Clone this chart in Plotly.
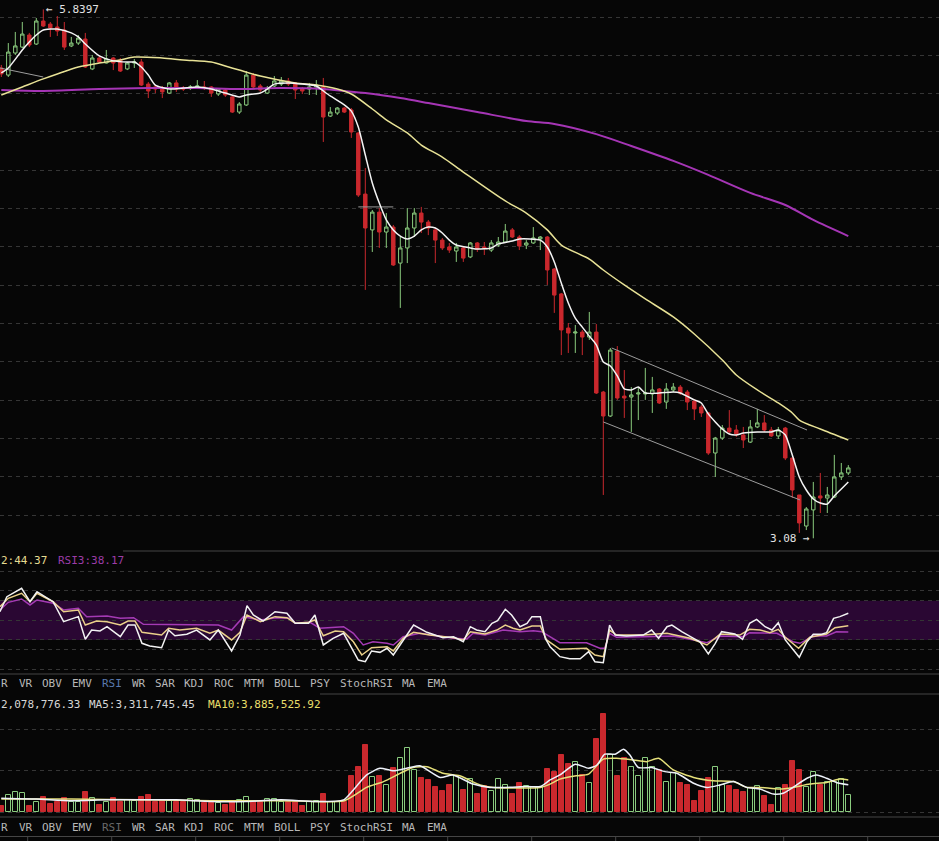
import plotly.graph_objects as go

# ---------------- data ----------------
candle_open = [5.534, 5.497, 5.612, 5.643, 5.706, 5.659, 5.779, 5.763, 5.748, 5.732,
               5.649, 5.664, 5.685, 5.529, 5.586, 5.560, 5.586, 5.576, 5.529, 5.560,
               5.565, 5.450, 5.435, 5.429, 5.403, 5.456, 5.429, 5.429, 5.435, 5.435,
               5.435, 5.398, 5.419, 5.383, 5.304, 5.341, 5.497, 5.440, 5.403, 5.440,
               5.450, 5.466, 5.456, 5.424, 5.424, 5.435, 5.435, 5.283, 5.299, 5.325,
               5.315, 5.195, 4.876, 4.689, 4.782, 4.678, 4.704, 4.516, 4.595, 4.699,
               4.777, 4.730, 4.689, 4.636, 4.600, 4.579, 4.595, 4.548, 4.621, 4.600,
               4.584, 4.610, 4.626, 4.689, 4.652, 4.610, 4.621, 4.642, 4.652, 4.485,
               4.355, 4.177, 4.151, 4.156, 4.130, 4.156, 3.843, 3.718, 4.057, 3.822,
               3.817, 3.833, 3.833, 3.833, 3.859, 3.791, 3.854, 3.869, 3.843, 3.796,
               3.765, 3.734, 3.525, 3.603, 3.655, 3.645, 3.619, 3.582, 3.661, 3.682,
               3.645, 3.614, 3.655, 3.499, 3.306, 3.144, 3.228, 3.301, 3.290, 3.295,
               3.400, 3.421]
candle_high = [5.550, 5.664, 5.722, 5.774, 5.717, 5.795, 5.8397, 5.774, 5.805, 5.774,
               5.696, 5.706, 5.717, 5.602, 5.597, 5.628, 5.591, 5.586, 5.565, 5.581,
               5.581, 5.461, 5.445, 5.440, 5.461, 5.471, 5.440, 5.445, 5.471, 5.466,
               5.440, 5.429, 5.429, 5.393, 5.356, 5.518, 5.508, 5.450, 5.440, 5.492,
               5.487, 5.482, 5.461, 5.435, 5.456, 5.471, 5.482, 5.330, 5.330, 5.330,
               5.325, 5.200, 5.012, 4.793, 4.803, 4.777, 4.715, 4.652, 4.803, 4.803,
               4.809, 4.741, 4.699, 4.647, 4.621, 4.621, 4.600, 4.626, 4.626, 4.626,
               4.636, 4.652, 4.720, 4.699, 4.662, 4.636, 4.704, 4.657, 4.657, 4.490,
               4.360, 4.203, 4.193, 4.167, 4.261, 4.198, 3.849, 4.073, 4.083, 3.958,
               3.869, 3.869, 3.969, 3.922, 3.864, 3.890, 3.890, 3.880, 3.854, 3.807,
               3.776, 3.739, 3.609, 3.671, 3.749, 3.671, 3.661, 3.697, 3.755, 3.723,
               3.661, 3.661, 3.661, 3.499, 3.306, 3.243, 3.374, 3.421, 3.348, 3.515,
               3.473, 3.462]
candle_low = [5.487, 5.487, 5.602, 5.638, 5.643, 5.654, 5.748, 5.696, 5.701, 5.628,
              5.643, 5.654, 5.534, 5.523, 5.560, 5.557, 5.523, 5.513, 5.523, 5.534,
              5.440, 5.377, 5.403, 5.377, 5.398, 5.409, 5.414, 5.419, 5.424, 5.419,
              5.383, 5.388, 5.383, 5.299, 5.294, 5.336, 5.429, 5.409, 5.398, 5.435,
              5.440, 5.440, 5.372, 5.398, 5.393, 5.393, 5.148, 5.278, 5.289, 5.299,
              5.169, 4.861, 4.376, 4.574, 4.595, 4.595, 4.501, 4.282, 4.516, 4.652,
              4.673, 4.662, 4.516, 4.584, 4.569, 4.522, 4.522, 4.542, 4.574, 4.558,
              4.574, 4.600, 4.621, 4.647, 4.584, 4.589, 4.616, 4.584, 4.402, 4.256,
              4.036, 4.047, 4.047, 4.036, 4.115, 3.833, 3.306, 3.713, 3.802, 3.708,
              3.635, 3.697, 3.802, 3.734, 3.781, 3.755, 3.843, 3.828, 3.749, 3.697,
              3.713, 3.515, 3.400, 3.593, 3.629, 3.609, 3.551, 3.577, 3.655, 3.635,
              3.609, 3.598, 3.488, 3.290, 3.108, 3.123, 3.080, 3.212, 3.212, 3.290,
              3.384, 3.410]
candle_close = [5.503, 5.617, 5.649, 5.711, 5.654, 5.779, 5.753, 5.743, 5.727, 5.643,
                5.664, 5.690, 5.539, 5.586, 5.565, 5.581, 5.560, 5.518, 5.560, 5.565,
                5.445, 5.414, 5.424, 5.409, 5.456, 5.424, 5.424, 5.435, 5.440, 5.429,
                5.403, 5.424, 5.393, 5.304, 5.346, 5.497, 5.435, 5.419, 5.429, 5.466,
                5.466, 5.450, 5.419, 5.414, 5.435, 5.445, 5.278, 5.304, 5.325, 5.304,
                5.200, 4.871, 4.699, 4.782, 4.678, 4.704, 4.506, 4.595, 4.699, 4.777,
                4.730, 4.699, 4.636, 4.595, 4.584, 4.600, 4.542, 4.621, 4.589, 4.595,
                4.621, 4.626, 4.683, 4.652, 4.605, 4.621, 4.647, 4.652, 4.480, 4.349,
                4.167, 4.151, 4.156, 4.130, 4.156, 3.838, 3.718, 4.062, 3.812, 3.812,
                3.828, 3.838, 3.838, 3.854, 3.786, 3.859, 3.869, 3.838, 3.791, 3.755,
                3.734, 3.525, 3.603, 3.655, 3.635, 3.624, 3.593, 3.661, 3.682, 3.645,
                3.614, 3.645, 3.499, 3.332, 3.160, 3.233, 3.295, 3.290, 3.306, 3.400,
                3.421, 3.447]
# volume in millions
volume_m = [0.7, 2.1, 2.4, 2.3, 0.7, 1.3, 1.8, 1.0, 1.3, 1.7,
            1.3, 1.2, 2.4, 1.7, 0.9, 1.3, 1.7, 1.3, 1.5, 1.4,
            1.8, 2.1, 1.2, 1.4, 1.4, 1.3, 1.2, 1.6, 1.5, 1.1,
            1.1, 1.1, 0.9, 1.4, 1.5, 1.8, 1.4, 1.3, 1.6, 1.6,
            1.3, 1.2, 1.3, 0.8, 1.3, 1.4, 2.2, 1.2, 1.2, 1.2,
            4.4, 5.4, 8.1, 4.2, 4.4, 3.3, 5.3, 6.5, 7.8, 5.1,
            4.1, 3.9, 3.1, 2.6, 3.3, 4.4, 2.7, 4.0, 2.2, 3.2,
            2.6, 4.0, 3.3, 2.2, 3.5, 3.2, 3.1, 3.0, 5.2, 4.9,
            6.9, 5.8, 6.1, 4.5, 3.5, 8.8, 11.8, 6.9, 4.4, 6.5,
            5.5, 4.4, 6.6, 5.5, 5.1, 3.6, 4.7, 3.5, 3.3, 1.4,
            2.6, 4.1, 5.4, 3.3, 3.2, 2.7, 2.5, 2.9, 3.2, 2.0,
            0.9, 2.9, 3.3, 6.2, 5.1, 3.1, 4.8, 3.3, 3.6, 3.7,
            4.0, 2.08]

ma5_idx = [0, 1, 3, 4, 5, 6, 7, 8, 10, 11, 12, 14, 16, 18, 19, 20, 21, 22, 24, 26, 28, 30, 32, 34,
           35, 37, 38, 39, 41, 43, 45, 46, 47, 49, 50, 51, 52, 53, 54, 55, 56, 57, 58, 59, 60, 61,
           62, 63, 64, 65, 67, 68, 70, 71, 73, 74, 77, 78, 79, 80, 81, 82, 83, 84, 85, 86, 87, 88,
           89, 90, 91, 92, 94, 96, 97, 99, 100, 101, 102, 103, 104, 105, 106, 108, 110, 111, 112,
           113, 114, 115, 116, 117, 118, 119, 120, 121]
ma5_val = [5.508, 5.534, 5.628, 5.670, 5.706, 5.732, 5.737, 5.737, 5.717, 5.696, 5.659, 5.597,
           5.571, 5.565, 5.565, 5.539, 5.497, 5.445, 5.424, 5.429, 5.435, 5.424, 5.403, 5.383,
           5.393, 5.403, 5.424, 5.450, 5.456, 5.450, 5.440, 5.414, 5.388, 5.341, 5.309, 5.226,
           5.080, 4.934, 4.829, 4.741, 4.689, 4.657, 4.642, 4.657, 4.689, 4.704, 4.699, 4.673,
           4.636, 4.610, 4.595, 4.589, 4.595, 4.616, 4.631, 4.642, 4.636, 4.600, 4.522, 4.412,
           4.308, 4.229, 4.182, 4.135, 4.089, 4.000, 3.979, 3.927, 3.859, 3.854, 3.869, 3.838,
           3.838, 3.843, 3.838, 3.802, 3.786, 3.729, 3.687, 3.650, 3.624, 3.619, 3.629, 3.635,
           3.635, 3.645, 3.619, 3.515, 3.400, 3.332, 3.285, 3.264, 3.259, 3.301, 3.337, 3.374]

ma30_idx = [0, 3, 6, 8, 11, 14, 17, 19, 23, 26, 30, 32, 34, 37, 42, 45, 48, 50, 53, 55, 58, 60,
            63, 66, 72, 75, 78, 80, 84, 86, 89, 92, 96, 99, 103, 105, 108, 111, 113, 114, 117, 121]
ma30_val = [5.393, 5.435, 5.477, 5.503, 5.539, 5.560, 5.576, 5.591, 5.586, 5.576, 5.565, 5.544,
            5.523, 5.492, 5.456, 5.445, 5.424, 5.398, 5.320, 5.263, 5.195, 5.132, 5.069, 4.991,
            4.840, 4.777, 4.689, 4.610, 4.537, 4.480, 4.402, 4.329, 4.235, 4.146, 4.010, 3.932,
            3.854, 3.786, 3.734, 3.697, 3.650, 3.593]

ma120_idx = [0, 6, 14, 21, 28, 34, 40, 46, 49, 52, 57, 61, 68, 75, 79, 85, 90, 96, 101, 107, 112, 116, 121]
ma120_val = [5.419, 5.414, 5.424, 5.429, 5.429, 5.424, 5.429, 5.424, 5.414, 5.403, 5.377, 5.351,
             5.304, 5.257, 5.242, 5.189, 5.127, 5.049, 4.976, 4.882, 4.819, 4.741, 4.657]

rsi1_idx = [-0.2, 0.8, 2.9, 4.1, 5.1, 7.4, 8.9, 11.0, 12.0, 12.9,
            14.1, 15.1, 17.0, 18.1, 19.1, 20.1, 21.2, 22.9, 23.9, 24.8,
            26.5, 27.9, 29.8, 31.0, 32.9, 34.1, 35.1, 36.0, 37.4, 39.1,
            40.8, 42.0, 43.9, 44.8, 46.0, 47.4, 48.9, 50.1, 51.0, 52.0,
            52.9, 54.1, 55.1, 56.0, 57.4, 58.9, 60.8, 63.1, 64.6, 66.0,
            67.0, 67.9, 69.1, 70.1, 70.9, 72.0, 72.9, 74.1, 75.1, 75.8,
            77.0, 77.7, 78.4, 79.8, 81.2, 82.7, 83.9, 84.8, 86.0, 86.9,
            87.7, 89.3, 91.7, 92.9, 93.9, 95.1, 95.8, 97.2, 98.9, 99.8,
            101.0, 102.0, 102.9, 104.8, 105.9, 106.9, 107.9, 109.1, 110.1, 111.0,
            112.0, 113.1, 114.0, 115.1, 116.0, 117.2, 117.9, 118.9, 119.8, 121.0]
rsi1_val = [58.7, 74.0, 82.6, 68.9, 79.1, 68.9, 48.6, 53.7, 30.7, 40.1,
            39.1, 43.5, 33.3, 45.2, 45.2, 26.6, 23.9, 22.1, 40.1, 34.3,
            35.8, 40.1, 30.0, 40.1, 18.8, 35.0, 64.9, 55.4, 49.3, 58.7,
            57.1, 46.9, 46.9, 55.4, 24.9, 31.7, 36.8, 21.5, 9.6, 7.9,
            18.8, 17.4, 21.5, 14.7, 30.0, 45.2, 37.8, 32.3, 33.3, 28.2,
            43.5, 40.1, 38.4, 46.9, 49.6, 61.2, 55.4, 43.5, 46.9, 53.7,
            53.7, 31.7, 23.1, 13.0, 10.9, 10.9, 18.1, 7.9, 6.9, 45.2,
            35.0, 34.0, 35.0, 40.1, 31.7, 43.5, 45.2, 38.4, 31.7, 28.2,
            15.7, 26.6, 38.4, 36.1, 30.7, 46.9, 51.0, 43.5, 40.1, 47.6,
            30.0, 19.8, 12.4, 28.2, 35.8, 35.8, 37.4, 52.0, 53.7, 57.1]

rsi2_idx = [-0.2, 1.0, 2.9, 4.1, 5.1, 7.4, 8.9, 11.0, 12.0, 13.6,
            15.1, 17.0, 18.1, 19.1, 20.1, 21.7, 22.9, 23.9, 25.5, 27.9,
            29.8, 31.0, 32.9, 34.1, 35.1, 37.0, 39.1, 40.8, 42.0, 43.9,
            44.8, 46.0, 47.7, 48.9, 50.3, 51.5, 52.9, 55.1, 56.0, 57.4,
            58.9, 61.2, 64.6, 66.0, 67.0, 69.1, 70.8, 72.0, 73.1, 74.1,
            75.8, 77.0, 77.9, 79.8, 83.6, 84.8, 86.0, 86.9, 87.9, 91.7,
            95.1, 98.4, 100.8, 102.7, 105.5, 106.9, 108.4, 109.8, 111.0, 112.0,
            113.9, 115.5, 117.9, 119.1, 121.0]
rsi2_val = [63.8, 72.4, 77.5, 68.9, 77.5, 68.9, 58.7, 60.5, 45.2, 49.3,
            48.6, 45.2, 49.3, 49.3, 37.8, 35.8, 35.0, 41.9, 40.1, 41.9,
            36.8, 40.1, 30.0, 37.8, 55.4, 48.6, 53.7, 52.6, 46.9, 48.0,
            50.3, 34.3, 39.1, 38.4, 28.2, 14.7, 22.1, 23.1, 18.8, 31.7,
            37.8, 35.0, 32.3, 30.0, 38.4, 36.1, 40.1, 45.2, 41.9, 40.1,
            44.2, 44.2, 30.0, 20.5, 21.5, 14.7, 13.0, 40.1, 35.0, 35.0,
            36.8, 31.7, 24.9, 36.1, 35.0, 40.8, 40.1, 37.4, 40.8, 32.7,
            21.5, 32.7, 36.1, 42.5, 44.37]

rsi3_idx = [-0.2, 1.0, 2.9, 4.1, 5.1, 7.4, 8.9, 11.0, 12.2, 15.1,
            17.0, 18.9, 20.3, 23.6, 28.4, 31.0, 32.9, 34.6, 37.0, 39.3,
            41.2, 42.0, 44.1, 45.5, 48.9, 50.3, 51.7, 53.1, 55.1, 56.0,
            57.4, 59.8, 64.6, 66.5, 67.4, 69.1, 71.7, 74.1, 76.0, 77.2,
            79.8, 83.6, 85.5, 86.2, 86.9, 87.9, 91.7, 96.0, 98.9, 100.8,
            102.7, 106.0, 106.9, 110.8, 113.1, 114.1, 116.0, 117.9, 119.3, 121.0]
rsi3_val = [60.5, 68.3, 71.7, 65.6, 70.7, 67.3, 60.5, 62.2, 53.7, 54.4,
            52.0, 52.6, 45.9, 45.9, 45.9, 45.2, 40.1, 53.7, 50.3, 52.6,
            52.0, 46.9, 48.0, 41.9, 43.5, 36.8, 24.9, 28.2, 26.6, 24.9,
            33.3, 36.8, 31.7, 31.0, 36.8, 35.0, 40.1, 38.4, 39.4, 38.4,
            27.2, 27.2, 21.5, 21.5, 36.8, 32.7, 33.3, 34.0, 30.0, 27.2,
            34.0, 33.3, 37.4, 36.8, 28.2, 26.6, 34.0, 34.0, 38.4, 38.17]

vma5_idx = [0, 5, 10, 15, 20, 25, 30, 35, 40, 45,
            48.9, 50.3, 52.2, 54.1, 56.0, 58.4, 59.8, 62.7, 64.5, 67.4,
            69.8, 75.1, 77.0, 78.4, 79.8, 82.0, 83.9, 85.1, 86.2, 87.7,
            88.9, 89.8, 91.0, 92.9, 94.8, 96.5, 98.9, 100.8, 102.7, 104.6,
            106.5, 108.4, 110.3, 111.7, 113.1, 115.1, 116.5, 117.9, 119.3, 121.0]
vma5_val = [1.7, 1.6, 1.4, 1.5, 1.5, 1.5, 1.3, 1.3, 1.5, 1.3,
            1.5, 2.7, 4.5, 5.3, 5.0, 5.4, 5.6, 4.2, 4.5, 3.4,
            3.0, 3.1, 3.1, 3.9, 4.5, 5.8, 5.3, 5.7, 7.0, 7.0,
            7.6, 6.9, 5.4, 5.4, 4.9, 4.7, 3.5, 3.0, 3.3, 3.7,
            3.0, 2.8, 2.2, 2.3, 3.0, 4.1, 4.5, 4.1, 3.6, 3.31]

vma10_idx = [0, 10, 20, 30, 40, 49.0, 52.2, 54.6, 57.0, 58.8,
             60.8, 63.1, 65.5, 68.4, 70.3, 77.0, 78.4, 79.8, 82.2, 83.9,
             86.0, 87.9, 90.3, 92.2, 93.9, 96.0, 98.9, 101.7, 104.6, 106.5,
             108.4, 111.2, 113.1, 115.5, 117.9, 119.8, 121.0]
vma10_val = [1.6, 1.6, 1.5, 1.4, 1.4, 1.4, 3.0, 3.7, 4.7, 5.4,
             5.5, 4.7, 4.4, 3.3, 3.0, 3.0, 3.4, 4.0, 4.4, 4.6,
             6.4, 6.5, 6.3, 6.1, 6.5, 5.1, 4.2, 3.8, 3.7, 3.0,
             3.0, 2.8, 3.0, 3.4, 3.6, 4.0, 3.89]

# hand-drawn lines on the price chart: (start index, start price, end index, end price)
drawn_lines = [(-0.2, 5.534, 6.0, 5.487),
               (51.0, 4.809, 56.0, 4.809),
               (87.2, 4.073, 115.1, 3.645),
               (86.0, 3.687, 114.1, 3.280)]

price_high_label = "← 5.8397"
price_low_label = "3.08 →"
rsi_label_2 = "2:44.37"          # visible part of the RSI2 read-out
rsi_label_3 = "RSI3:38.17"
vol_label = "2,078,776.33"      # visible part of the VOL read-out
vol_ma5_label = "MA5:3,311,745.45"
vol_ma10_label = "MA10:3,885,525.92"
tabs = ["R", "VR", "OBV", "EMV", "RSI", "WR", "SAR", "KDJ", "ROC", "MTM",
        "BOLL", "PSY", "StochRSI", "MA", "EMA"]

for a, b in [(candle_open, candle_high), (candle_open, candle_low), (candle_open, candle_close),
             (candle_open, volume_m), (ma5_idx, ma5_val), (ma30_idx, ma30_val),
             (ma120_idx, ma120_val), (rsi1_idx, rsi1_val), (rsi2_idx, rsi2_val),
             (rsi3_idx, rsi3_val), (vma5_idx, vma5_val), (vma10_idx, vma10_val)]:
    assert len(a) == len(b), (len(a), len(b))

# ---------------- style ----------------
W, H = 939, 841
BG = "#060606"
RED = "#c9282d"
GREEN = "#8acb7e"
GRID = "#353535"
SEP = "#454545"
MONO = "DejaVu Sans Mono, monospace"

n = len(candle_open)
idx = list(range(n))


def pxx(x):
    return x / W


def pxy(y):
    return 1 - y / H


fig = go.Figure()

# price panel
fig.add_trace(go.Candlestick(
    x=idx, open=candle_open, high=candle_high, low=candle_low, close=candle_close,
    increasing=dict(line=dict(color=GREEN, width=1), fillcolor="rgba(0,0,0,0)"),
    decreasing=dict(line=dict(color=RED, width=1), fillcolor=RED),
    whiskerwidth=0, xaxis="x", yaxis="y", hoverinfo="skip"))

for x0, y0, x1, y1 in drawn_lines:
    fig.add_trace(go.Scatter(x=[x0, x1], y=[y0, y1], mode="lines",
                             line=dict(color="#9c9c9c", width=1), xaxis="x", yaxis="y",
                             hoverinfo="skip"))

fig.add_trace(go.Scatter(x=ma120_idx, y=ma120_val, mode="lines",
                         line=dict(color="#a535b5", width=2, shape="spline", smoothing=0.8),
                         xaxis="x", yaxis="y", hoverinfo="skip"))
fig.add_trace(go.Scatter(x=ma30_idx, y=ma30_val, mode="lines",
                         line=dict(color="#e8e296", width=1.5, shape="spline", smoothing=0.8),
                         xaxis="x", yaxis="y", hoverinfo="skip"))
fig.add_trace(go.Scatter(x=ma5_idx, y=ma5_val, mode="lines",
                         line=dict(color="#f4f4f4", width=1.5, shape="spline", smoothing=0.6),
                         xaxis="x", yaxis="y", hoverinfo="skip"))

# RSI panel
fig.add_trace(go.Scatter(x=rsi3_idx, y=rsi3_val, mode="lines",
                         line=dict(color="#a43ab4", width=1.5), xaxis="x", yaxis="y2",
                         hoverinfo="skip"))
fig.add_trace(go.Scatter(x=rsi2_idx, y=rsi2_val, mode="lines",
                         line=dict(color="#ead08a", width=1.5), xaxis="x", yaxis="y2",
                         hoverinfo="skip"))
fig.add_trace(go.Scatter(x=rsi1_idx, y=rsi1_val, mode="lines",
                         line=dict(color="#f2f2f2", width=1.5), xaxis="x", yaxis="y2",
                         hoverinfo="skip"))

# volume panel
up = [c >= o for o, c in zip(candle_open, candle_close)]
fig.add_trace(go.Bar(
    x=idx, y=volume_m, width=0.68,
    marker=dict(color=["rgba(0,0,0,0)" if u else RED for u in up],
                line=dict(color=[GREEN if u else RED for u in up], width=1)),
    xaxis="x", yaxis="y3", hoverinfo="skip"))
fig.add_trace(go.Scatter(x=vma10_idx, y=vma10_val, mode="lines",
                         line=dict(color="#e6e07a", width=1.5, shape="spline", smoothing=0.6),
                         xaxis="x", yaxis="y3", hoverinfo="skip"))
fig.add_trace(go.Scatter(x=vma5_idx, y=vma5_val, mode="lines",
                         line=dict(color="#eef2fa", width=1.5, shape="spline", smoothing=0.6),
                         xaxis="x", yaxis="y3", hoverinfo="skip"))

axis_common = dict(showticklabels=False, zeroline=False, showline=False, ticks="",
                   showgrid=True, gridcolor=GRID, griddash="4px,4px", gridwidth=1,
                   anchor="x", fixedrange=True)

fig.update_layout(
    width=W, height=H, margin=dict(l=0, r=0, t=0, b=0),
    paper_bgcolor=BG, plot_bgcolor=BG, showlegend=False, hovermode=False,
    bargap=0,
    xaxis=dict(range=[-0.186, 133.957], visible=False, rangeslider=dict(visible=False),
               anchor="y", fixedrange=True),
    yaxis=dict(domain=[1 - 550 / H, 1], range=[3.01889, 5.88870], tick0=3.0, dtick=0.2,
               **axis_common),
    yaxis2=dict(domain=[1 - 674 / H, 1 - 551 / H], range=[-4.63, 120.5],
                tickmode="array", tickvals=[0, 20, 30, 50, 70, 80, 100], **axis_common),
    yaxis3=dict(domain=[1 - 817 / H, 1 - 694 / H], range=[-0.566, 14.253],
                tickmode="array", tickvals=[0, 5, 10], **axis_common),
)

shapes = [
    dict(type="rect", xref="paper", yref="y2", x0=0, x1=1, y0=30, y1=70,
         fillcolor="#2a0733", line=dict(width=0), layer="below"),
]
for y, x0 in [(551, 123), (674, 0), (694, 320), (817, 0), (836.5, 0)]:
    shapes.append(dict(type="line", xref="paper", yref="paper", x0=pxx(x0), x1=1,
                       y0=pxy(y), y1=pxy(y), line=dict(color=SEP, width=1)))
for k in range(11):
    xt = 27.7 + 84 * k
    shapes.append(dict(type="line", xref="paper", yref="paper", x0=pxx(xt), x1=pxx(xt),
                       y0=pxy(836.5), y1=pxy(841), line=dict(color=SEP, width=1)))
fig.update_layout(shapes=shapes)

ann = []
ann.append(dict(x=6, y=5.8397, xref="x", yref="y", text=price_high_label, showarrow=False,
                xanchor="left", yanchor="middle", xshift=1,
                font=dict(family=MONO, size=11, color="#e2e2e2")))
ann.append(dict(x=116, y=3.08, xref="x", yref="y", text=price_low_label, showarrow=False,
                xanchor="right", yanchor="middle", xshift=-1,
                font=dict(family=MONO, size=11, color="#e2e2e2")))


def label(txt, x, y, color):
    ann.append(dict(x=pxx(x), y=pxy(y), xref="paper", yref="paper", text=txt,
                    showarrow=False, xanchor="left", yanchor="middle",
                    font=dict(family=MONO, size=11, color=color)))


label(rsi_label_2, -1, 560, "#e6dc92")
label(rsi_label_3, 56, 560, "#9c3ca8")
label(vol_label, -1, 704, "#d6d6d6")
label(vol_ma5_label, 87, 704, "#d6d6d6")
label(vol_ma10_label, 206, 704, "#e8de6a")

tab_x = [-1, 16.5, 39.5, 70, 99.5, 129.5, 152.5, 182, 212, 241.5, 271.5, 307.5, 337.5, 400, 424.5]
for t, xx in zip(tabs, tab_x):
    c1 = "#5a7aae" if t == "RSI" else "#b8b8b8"
    c2 = "#6a6a6a" if t == "RSI" else "#b8b8b8"
    label(t, xx, 683.5, c1)
    label(t, xx, 827, c2)

fig.update_layout(annotations=ann)

fig.write_html("out.html", config={"displayModeBar": False},
               post_script="document.body.style.margin='0';document.body.style.overflow='hidden';")
